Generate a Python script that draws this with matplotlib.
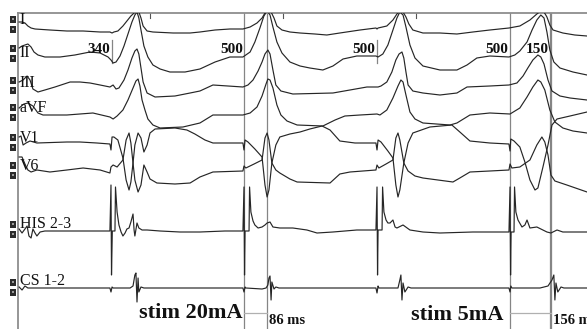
import matplotlib
matplotlib.use("Agg")
import matplotlib.pyplot as plt
from matplotlib.patches import Rectangle

# ---------------- DATA (time in ms, amplitude in display units, + = up) ----------------
lead_names = ["I", "II", "III", "aVF", "V1", "V6", "HIS 2-3", "CS 1-2"]

I_t = [72,83,94,105,117,132,188,252,313,377,414,422,429,444,463,478,493,505,516,523,531,539,
       554,576,652,716,753,810,866,915,942,968,987,998,1009,1021,1032,1043,1062,1092,1130,1186,
       1231,1280,1356,1416,1420,1424,1457,1480,1495,1506,1518,1529,1540,1555,1593,1657,1721,1781,
       1845,1917,1958,1996,2022,2037,2049,2060,2071,2083,2120,2165,2211]
I_v = [7,7,6,3,1,0,-1,-2,-2,-3,-3,-4,-3,-2,3,8,13,16,18,17,11,3,
       -2,-3,-4,-4,-3,-1,0,0,2,6,11,16,18,17,11,3,-1,-3,-4,-5,
       -6,-4,-1,1,0,1,3,9,15,18,17,12,5,-1,-4,-4,-5,-3,
       -1,1,3,9,15,18,17,12,4,-1,-4,-6,-7]

II_t = [72,83,94,105,117,128,143,169,226,282,339,377,407,418,426,437,452,467,482,497,508,516,523,531,
        542,557,576,603,640,697,753,810,866,915,942,960,979,994,1006,1017,1028,1043,1062,1092,1130,1167,
        1216,1254,1292,1344,1416,1424,1442,1461,1480,1495,1506,1518,1529,1544,1563,1593,1657,1721,
        1759,1796,1845,1917,1939,1958,1985,2004,2022,2037,2049,2060,2071,2086,2109,2158,2211]
II_v = [8,10,11,12,9,4,1,-1,-1,1,4,3,-1,-4,-7,-6,0,10,22,34,41,44,38,26,
        10,-1,-9,-13,-16,-16,-13,-6,-1,-1,4,14,28,40,45,41,29,14,3,-6,-10,-12,
        -14,-10,-3,0,0,-1,2,11,26,38,44,41,29,11,-2,-10,-14,-14,
        -9,-2,0,-1,1,5,14,26,36,41,38,24,6,-6,-12,-16,-19]

III_t = [72,87,102,113,124,143,169,207,264,301,339,377,414,426,437,448,467,482,497,508,516,523,531,539,
         554,584,659,716,753,802,915,934,953,972,987,998,1009,1017,1028,1039,1058,1103,1254,1318,1382,1424,
         1435,1457,1476,1491,1503,1514,1521,1529,1537,1555,1593,1657,1721,1759,1845,1917,1947,1970,
         1988,2007,2026,2037,2049,2064,2079,2109,2147,2211]
III_v = [6,8,12,8,-1,-4,-2,1,6,6,5,3,1,3,-1,0,8,18,30,37,39,34,20,6,
         -5,-9,-8,-5,-3,3,1,3,8,17,26,34,38,34,18,3,-3,-6,-5,-2,1,1,
         2,6,16,28,34,36,30,16,3,-3,-5,-7,-5,1,2,3,5,12,
         20,28,33,31,24,8,-3,-8,-10,-12]

aVF_t = [72,90,105,124,143,162,252,350,414,426,441,463,482,501,512,520,527,535,546,557,576,603,689,753,
         802,915,942,968,987,1002,1009,1017,1028,1043,1058,1081,1119,1216,1262,1299,1356,1420,1431,1457,
         1480,1499,1510,1518,1529,1544,1563,1593,1695,1721,1770,1845,1921,1958,1985,2007,2026,2037,2052,
         2071,2090,2120,2158,2211]
aVF_v = [7,11,12,9,2,0,0,2,-2,-4,-1,5,15,27,34,36,29,15,5,-4,-10,-13,-12,-8,
         0,0,2,8,19,31,36,35,27,10,0,-6,-10,-11,-5,-1,0,1,0,5,
         17,29,35,33,20,3,-4,-8,-10,-8,0,2,1,7,18,28,35,33,25,
         5,-7,-13,-16,-18]

V1_t = [72,79,87,98,113,139,252,301,365,414,418,422,429,444,463,475,486,493,501,508,520,531,542,554,
        565,584,659,704,734,772,802,915,919,923,934,960,987,998,1006,1013,1024,1039,1054,1092,1130,1167,
        1213,1243,1280,1337,1416,1420,1424,1435,1461,1480,1491,1499,1506,1521,1537,1555,1619,1702,
        1732,1770,1845,1917,1921,1924,1936,1958,1977,1996,2015,2026,2045,2064,2079,2098,2147,2211]
V1_v = [6,7,-2,0,2,0,1,1,0,-1,-7,6,6,3,-15,-37,-47,-39,-20,-2,10,5,-9,-2,
        10,14,15,13,9,3,0,0,-7,3,1,-6,-14,-42,-54,-47,-20,-2,6,9,11,14,
        17,13,2,0,0,-7,3,1,-8,-15,-42,-54,-47,-20,0,10,16,18,
        11,2,0,-1,-8,4,2,-4,-19,-37,-47,-45,-24,-2,18,24,27,31]

V6_t = [72,83,94,105,117,139,188,252,313,377,414,418,426,441,463,475,486,493,501,508,520,531,542,554,
        565,591,659,716,753,802,915,919,926,957,987,998,1006,1013,1024,1039,1054,1092,1119,1243,1280,1318,
        1416,1420,1427,1454,1480,1491,1499,1506,1521,1537,1563,1593,1706,1732,1770,1845,1917,1921,
        1928,1958,1996,2022,2041,2052,2064,2075,2090,2135,2211]
V6_v = [15,15,8,2,0,2,0,2,4,2,-1,5,7,5,12,32,39,29,9,-8,-20,-13,7,0,
        -7,-11,-12,-11,-5,0,1,6,4,8,12,34,39,32,9,2,-1,-7,-10,-11,-2,0,
        2,7,4,8,12,34,39,32,9,1,-4,-6,-10,-6,0,1,2,8,
        4,5,12,27,35,30,17,-3,-9,-13,-20]

HIS_t = [72,83,94,102,109,117,124,132,139,151,169,252,414,418,420,423,433,435,441,448,456,463,471,478,
         486,493,501,505,508,516,523,535,554,603,678,753,847,915,919,921,923,938,940,945,953,960,972,987,
         998,1006,1017,1028,1054,1103,1156,1194,1254,1344,1416,1420,1422,1424,1439,1441,1446,1454,1461,
         1469,1480,1488,1495,1518,1544,1593,1657,1781,1917,1921,1923,1925,1936,1938,1943,1951,1966,1977,
         1985,1996,2022,2060,2075,2098,2120,2211]
HIS_v = [2,-2,2,5,-5,-7,2,-2,-5,-1,0,0,0,46,-44,0,0,44,19,6,-1,-5,-2,2,
         3,9,17,1,-5,8,3,1,1,0,-1,-1,0,0,44,-44,0,0,44,19,10,6,3,4,
         6,8,9,4,3,3,1,-2,-1,1,1,44,-44,1,1,44,19,11,8,
         8,11,4,3,6,1,-1,-2,-1,-1,44,-44,-1,-1,44,19,11,4,6,
         11,3,4,-1,-2,1,-1,-1]

CS_t = [72,83,94,105,169,414,418,422,426,490,501,508,512,516,520,523,531,542,915,919,923,926,987,1002,
        1009,1013,1017,1021,1024,1032,1039,1051,1416,1420,1424,1427,1499,1506,1510,1514,1518,1525,1537,
        1548,1917,1921,1924,1928,2034,2064,2079,2086,2090,2094,2101,2113,2124,2211]
CS_v = [1,-2,2,0,0,0,-4,1,0,0,2,13,15,-14,10,-4,1,0,0,-4,1,0,-1,0,
        3,10,12,-12,6,-1,1,0,0,-5,2,0,0,8,13,-12,5,-4,1,
        0,0,-4,2,0,0,2,8,13,-12,5,-4,1,0,0]

# calipers / annotations
caliper_ms = [420, 920, 1420, 1920, 2070]
caliper_text = ["340", "500", "500", "500", "150"]
caliper_full = [False, True, False, True, True]
interval_start_ms = [920, 1920]
interval_len_ms = [86, 156]
interval_text = ["86 ms", "156 ms"]
stim_text = ["stim 20mA", "stim 5mA"]
stim_end_ms = [913, 1896]
event_marks_ms = [565, 1066, 1567]

# ---------------- LAYOUT ----------------
W, H = 587, 329
PX_PER_MS = 0.2655
chan_offset = [300, 273, 241, 214, 186, 157, 98, 41]      # plot-y baselines
label_y = [305, 272, 242, 217, 187, 159, 101, 44]
marker_c = [305, 276, 244, 217, 187, 159, 100, 42]

traces = [(I_t, I_v), (II_t, II_v), (III_t, III_v), (aVF_t, aVF_v),
          (V1_t, V1_v), (V6_t, V6_v), (HIS_t, HIS_v), (CS_t, CS_v)]

fig = plt.figure(figsize=(W / 100, H / 100), dpi=100)
left_px, top_px = 18, 13
ax = fig.add_axes([left_px / W, 0, 1 - left_px / W, (H - top_px) / H])
x0 = left_px / PX_PER_MS
ax.set_xlim(x0, W / PX_PER_MS)
ax.set_ylim(0, H - top_px)
ax.set_xticks([]); ax.set_yticks([])
for s in ["right", "bottom"]:
    ax.spines[s].set_visible(False)
for s in ["top", "left"]:
    ax.spines[s].set_color("#8e8e8e")
    ax.spines[s].set_linewidth(1.3)

trace_col = "#262626"
cal_col = "#858585"
serif = "Liberation Serif"

# calipers
for t, txt, full in zip(caliper_ms, caliper_text, caliper_full):
    if full:
        ax.plot([t, t], [0, H - top_px], color=cal_col, lw=0.9, zorder=1)
    else:
        ax.plot([t, t], [266, 289], color=cal_col, lw=0.9, zorder=1)
    ax.text(t - 5, 276, txt, ha="right", va="baseline", fontsize=11,
            fontweight="bold", family=serif, color="#111111", zorder=4)

for t0, d, txt in zip(interval_start_ms, interval_len_ms, interval_text):
    ax.plot([t0 + d, t0 + d], [0, H - top_px], color=cal_col, lw=0.9, zorder=1)
    ax.plot([t0, t0 + d], [16, 16], color="#b0b0b0", lw=0.9, zorder=1)
    ax.text(t0 + d + 6, 5, txt, ha="left", va="baseline", fontsize=10.5,
            fontweight="bold", family=serif, color="#111111")

for txt, te, yy in zip(stim_text, stim_end_ms, [11, 9]):
    ax.text(te, yy, txt, ha="right", va="baseline", fontsize=16,
            fontweight="bold", family=serif, color="#111111")

for t in event_marks_ms:
    ax.plot([t, t], [311, 316], color="#555555", lw=0.8)

# traces
for (tt, vv), off in zip(traces, chan_offset):
    ax.plot(tt, [off + v for v in vv], color=trace_col, lw=0.85, zorder=3,
            solid_joinstyle="round")

# channel labels and markers
mx0 = 10 / PX_PER_MS
mw = 6 / PX_PER_MS
for name, ly, mc in zip(lead_names, label_y, marker_c):
    ax.text(19.5 / PX_PER_MS, ly, name, ha="left", va="baseline", fontsize=11.5,
            family=serif, color="#111111", zorder=5)
    for yb in (mc + 1.5, mc - 8.5):
        ax.add_patch(Rectangle((mx0, yb), mw, 7, facecolor="#2b2b2b",
                               edgecolor="none", clip_on=False))
        ax.add_patch(Rectangle((mx0 + mw * 0.35, yb + 2.5), mw * 0.3, 2,
                               facecolor="#9a9a9a", edgecolor="none", clip_on=False))

fig.savefig("out.png", dpi=100)
